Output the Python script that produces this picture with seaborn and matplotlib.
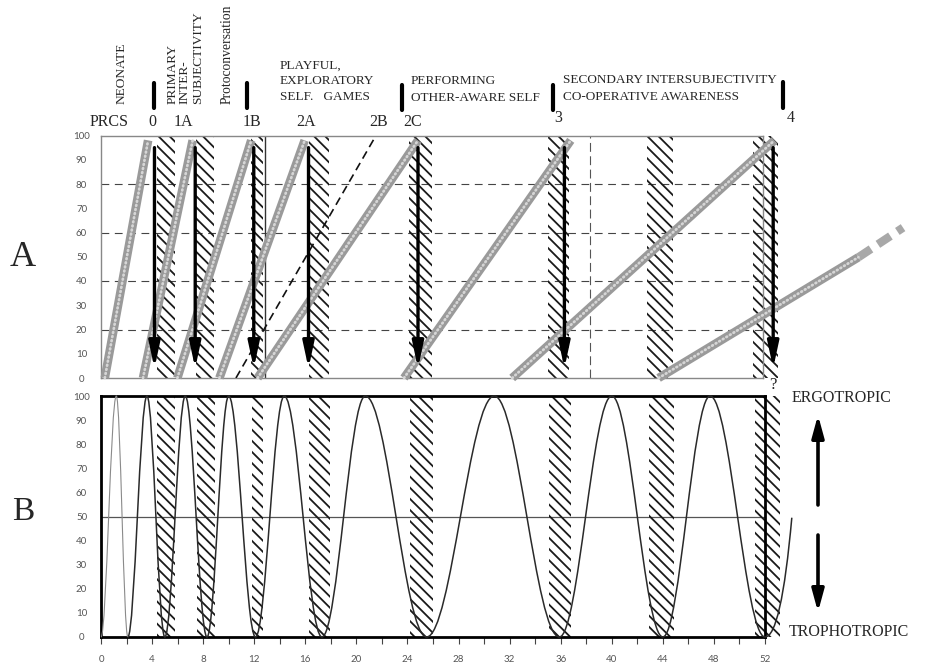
import numpy as np
import pandas as pd
import matplotlib
matplotlib.use("Agg")
import matplotlib.pyplot as plt
import seaborn as sns
from matplotlib.path import Path
from matplotlib.patches import PathPatch, FancyArrowPatch
from matplotlib.lines import Line2D

# ---------------- data ----------------
# Panel A: rising ramps (week where each ramp starts at 0, week and level where it ends)
ramp_start_weeks = [0.3, 3.3, 6.0, 9.3, 12.3, 23.8, 32.3, 43.8]
ramp_end_weeks = [3.7, 7.2, 11.8, 16.0, 24.9, 36.9, 52.9, 59.5]
ramp_end_levels = [98, 98, 98, 98, 98, 98, 98, 49.8]
ramp_tail_weeks = [59.5, 63.0]
ramp_tail_levels = [49.8, 62]
dashed_ramp_weeks = [10.6, 21.6]
dashed_ramp_levels = [0, 100]
arrow_weeks = [4.2, 7.4, 12.0, 16.3, 24.9, 36.4, 52.8]
arrow_top, arrow_bottom = 95, 4
hatch_starts = [4.4, 7.5, 11.8, 16.3, 24.2, 35.1, 42.9, 51.2]
hatch_ends = [5.8, 8.9, 12.7, 17.9, 26.0, 36.8, 44.9, 53.2]
solid_vline_week = 12.9
dashed_vline_week = 38.4
grid_levels = [20, 40, 60, 80]

# Panel B: oscillation turning points (week, level)
wave_weeks = [0, 1.2, 2.1, 3.6, 5.0, 6.6, 8.3, 10.0, 12.1, 14.35, 17.3,
              20.7, 25.5, 30.8, 35.9, 40.0, 44.0, 47.7, 52.0]
wave_levels = [0, 100, 0, 100, 0, 100, 0, 100, 0, 100, 0,
               100, 0, 100, 0, 100, 0, 100, 0]
wave_end_week, wave_end_level = 54.1, 49.5
midline_level = 50

y_ticks = list(range(0, 101, 10))
x_major_ticks = list(range(0, 53, 4))
x_minor_ticks = list(range(2, 53, 4))

stage_codes = ["PRCS", "0", "1A", "1B", "2A", "2B", "2C", "3", "4"]

# ---------------- style ----------------
sns.set_style("white")
plt.rcParams["font.family"] = ["Liberation Serif", "DejaVu Serif"]
plt.rcParams["hatch.linewidth"] = 1.3
plt.rcParams["hatch.color"] = "#1a1a1a"

W, H = 930, 670
fig = plt.figure(figsize=(W / 100, H / 100), dpi=100)


def fxy(px, py):
    return px / W, 1 - py / H


ax_a = fig.add_axes([101 / W, 1 - 378 / H, 662 / W, (378 - 135.5) / H])
ax_b = fig.add_axes([101 / W, 1 - 637 / H, 664 / W, (637 - 396) / H])

tick_font = dict(family="Lato", size=7, color="#555555")

for ax in (ax_a, ax_b):
    # hatched bands
    for x0, x1 in zip(hatch_starts, hatch_ends):
        ax.axvspan(x0, x1, facecolor="none", edgecolor="#1a1a1a",
                   hatch="\\\\\\", linewidth=0, clip_on=False, zorder=2)

# ---------------- panel A ----------------
rows = []
for i, (s, e, lv) in enumerate(zip(ramp_start_weeks, ramp_end_weeks, ramp_end_levels)):
    rows.append({"seg": i, "week": s, "level": 0})
    rows.append({"seg": i, "week": e, "level": lv})
df_ramps = pd.DataFrame(rows)

sns.lineplot(data=df_ramps, x="week", y="level", units="seg", estimator=None,
             sort=False, color="#9a9a9a", lw=6.2, solid_capstyle="butt",
             clip_on=False, zorder=3, ax=ax_a, legend=False)
sns.lineplot(data=df_ramps, x="week", y="level", units="seg", estimator=None,
             sort=False, color="#d6d6d6", lw=2.0, linestyle=(0, (0.3, 1.2)),
             dash_capstyle="round", clip_on=False, zorder=3.1, ax=ax_a, legend=False)
ax_a.plot(ramp_tail_weeks, ramp_tail_levels, color="#a8a8a8", lw=6.0,
          linestyle=(0, (1.8, 1.0)), clip_on=False, zorder=3)

ax_a.plot(dashed_ramp_weeks, dashed_ramp_levels, color="#111111", lw=1.2,
          linestyle=(0, (5, 3)), zorder=3.2)

for lv in grid_levels:
    ax_a.axhline(lv, color="#444444", lw=0.8, linestyle=(0, (7, 5)), zorder=1)
ax_a.axvline(solid_vline_week, color="#333333", lw=1.0, zorder=1)
ax_a.axvline(dashed_vline_week, color="#555555", lw=0.8, linestyle=(0, (8, 4)), zorder=1)

for xw in arrow_weeks:
    ax_a.annotate("", xy=(xw, arrow_bottom), xytext=(xw, arrow_top),
                  arrowprops=dict(arrowstyle="-|>,head_length=1.3,head_width=0.28",
                                  lw=2.4, color="black", shrinkA=0, shrinkB=0,
                                  mutation_scale=12),
                  annotation_clip=False, zorder=4)
ax_a.text(arrow_weeks[-1], -3, "?", ha="center", va="center", fontsize=12,
          color="#222222", clip_on=False)

for ax in (ax_a, ax_b):
    ax.set_xlim(0, 52)
    ax.set_ylim(0, 100)
    ax.set_yticks(y_ticks)
    ax.set_yticklabels([str(v) for v in y_ticks], fontdict=tick_font)
    ax.tick_params(axis="y", length=0, pad=14)
    for lab in ax.get_yticklabels():
        lab.set_horizontalalignment("center")
    ax.set_xlabel("")
    ax.set_ylabel("")

ax_a.set_xticks([])
for sp in ax_a.spines.values():
    sp.set_color("#888888")
    sp.set_linewidth(1.0)

# ---------------- panel B ----------------
a = 0.364


def wave_path(xs, ys, end=None):
    verts = [(xs[0], ys[0])]
    codes = [Path.MOVETO]
    for i in range(len(xs) - 1):
        x0, y0, x1, y1 = xs[i], ys[i], xs[i + 1], ys[i + 1]
        dx = x1 - x0
        verts += [(x0 + a * dx, y0), (x1 - a * dx, y1), (x1, y1)]
        codes += [Path.CURVE4] * 3
    if end is not None:
        x0, y0 = xs[-1], ys[-1]
        x1, y1 = end
        verts += [(x0 + 0.6 * (x1 - x0), y0), (x1, y1)]
        codes += [Path.CURVE3] * 2
    return Path(verts, codes)


first = wave_path(wave_weeks[:3], wave_levels[:3])
rest = wave_path(wave_weeks[2:], wave_levels[2:], end=(wave_end_week, wave_end_level))
ax_b.add_patch(PathPatch(first, facecolor="none", edgecolor="#8a8a8a", lw=0.8,
                         clip_on=False, zorder=3))
ax_b.add_patch(PathPatch(rest, facecolor="none", edgecolor="#2a2a2a", lw=1.1,
                         clip_on=False, zorder=3))
ax_b.axhline(midline_level, color="#555555", lw=0.9, zorder=1)

ax_b.set_xticks(x_major_ticks)
ax_b.set_xticklabels([str(v) for v in x_major_ticks], fontdict=tick_font)
ax_b.set_xticks(x_minor_ticks, minor=True)
ax_b.tick_params(axis="x", which="both", direction="out", length=5, width=0.8,
                 color="#444444", pad=8, bottom=True)
for sp in ax_b.spines.values():
    sp.set_color("black")
    sp.set_linewidth(2.0)

# ---------------- header annotations ----------------
code_pos = [(109, 122), (152, 122), (183, 122), (252, 122), (306, 122),
            (379, 122), (413, 122), (558, 118), (791, 118)]
for code, (px, py) in zip(stage_codes, code_pos):
    fig.text(*fxy(px, py), code, ha="center", va="center", fontsize=11.5)

for px, py0, py1 in [(154, 83, 108), (247, 83, 108), (402, 85, 110),
                     (553, 85, 110), (783, 82, 108)]:
    x, y0 = fxy(px, py0)
    _, y1 = fxy(px, py1)
    fig.add_artist(Line2D([x, x], [y0, y1], color="black", lw=3.0,
                          transform=fig.transFigure))

rot_texts = [("NEONATE", 122, 9.6), ("PRIMARY", 173, 9.6), ("INTER-", 185, 9.6),
             ("SUBJECTIVITY", 198, 9.6), ("Protoconversation", 227, 9.8)]
for txt, px, fs in rot_texts:
    fig.text(*fxy(px, 104), txt, rotation=90, ha="left", va="center",
             rotation_mode="anchor", fontsize=fs)

hdr_texts = [("PLAYFUL,", 280, 66), ("EXPLORATORY", 280, 81), ("SELF.   GAMES", 280, 97),
             ("PERFORMING", 411, 81), ("OTHER-AWARE SELF", 411, 98),
             ("SECONDARY INTERSUBJECTIVITY", 563, 80),
             ("CO-OPERATIVE AWARENESS", 563, 97.5)]
for txt, px, py in hdr_texts:
    fig.text(*fxy(px, py), txt, ha="left", va="center", fontsize=9.5)

# panel letters
fig.text(*fxy(23, 258), "A", ha="center", va="center", fontsize=26)
fig.text(*fxy(23, 512), "B", ha="center", va="center", fontsize=24)

# right-side labels and arrows
fig.text(*fxy(792, 398), "ERGOTROPIC", ha="left", va="center", fontsize=11.5)
fig.text(*fxy(789, 632), "TROPHOTROPIC", ha="left", va="center", fontsize=11.5)
arr = dict(arrowstyle="-|>,head_length=1.1,head_width=0.3", lw=2.6,
           color="black", shrinkA=0, shrinkB=0, mutation_scale=12)
fig.add_artist(FancyArrowPatch(fxy(818, 505), fxy(818, 415),
                               transform=fig.transFigure, **arr))
fig.add_artist(FancyArrowPatch(fxy(818, 535), fxy(818, 612),
                               transform=fig.transFigure, **arr))

fig.savefig("out.png", dpi=100, facecolor="white")
